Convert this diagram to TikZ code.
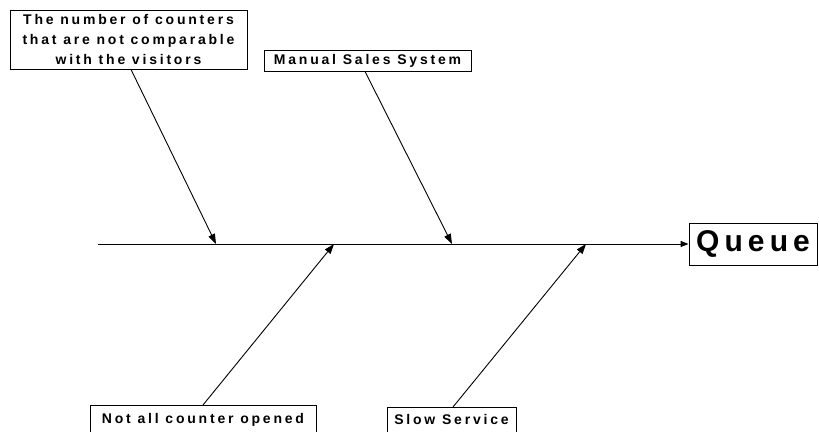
\documentclass[tikz,border=0pt]{standalone}
\usepackage{fontspec}
\setmainfont{Liberation Sans}
\newfontfamily\lblfont[LetterSpace=20]{Liberation Sans}
\newfontfamily\queuefont[LetterSpace=17]{Liberation Sans}
\usetikzlibrary{arrows.meta,calc}
\begin{document}
\begin{tikzpicture}[x=1pt,y=-1pt,
  cause/.style={draw=black,line width=0.9pt,fill=white,inner sep=0pt,align=center,
    font=\lblfont\bfseries\fontsize{14}{20}\selectfont},
  bone/.style={line width=0.9pt,-{Triangle[length=10pt,width=7pt]}},
  spine/.style={line width=1pt,-{Triangle[length=8pt,width=6pt]}}]
  \useasboundingbox (0,0) rectangle (819,431);
  \clip (0,0) rectangle (819,431);

  % effect box and spine
  \node[cause,minimum width=128pt,minimum height=42pt,
        font=\queuefont\bfseries\fontsize{30}{34}\selectfont] (effect) at (753,244) {Queue};
  \coordinate (tail) at (98,244);
  \draw[spine] (tail) -- (effect.west);

  % points where the causes meet the spine
  \coordinate (j1) at (216,244);
  \coordinate (j2) at (334,244);
  \coordinate (j3) at (452,244);
  \coordinate (j4) at (586,244);

  % causes above the spine
  \node[cause,minimum width=237pt,minimum height=59pt] (c1) at (128.5,39.5)
    {The number of counters\\that are not comparable\\with the visitors};
  \node[cause,minimum width=207pt,minimum height=21pt] (c2) at (367.5,60.5)
    {Manual Sales System};

  % causes below the spine
  \node[cause,minimum width=226pt,minimum height=27pt,anchor=north] (c3) at (203,405)
    {\raisebox{0pt}[10pt][0pt]{Not all counter opened}};
  \node[cause,minimum width=129pt,minimum height=25pt,anchor=north] (c4) at (451.5,407)
    {\raisebox{0pt}[10pt][0pt]{Slow Service}};

  % bones
  \draw[bone] ([xshift=2.5pt]c1.south) -- (j1);
  \draw[bone] ([xshift=-2.5pt]c2.south) -- (j3);
  \draw[bone] (c3.north) -- (j2);
  \draw[bone] ([xshift=1.5pt]c4.north) -- (j4);
\end{tikzpicture}
\end{document}
